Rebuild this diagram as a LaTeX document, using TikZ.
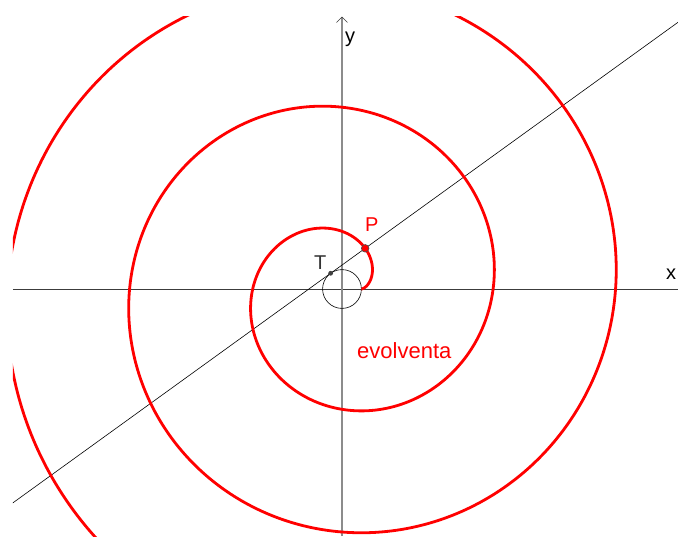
\documentclass[tikz,border=0pt]{standalone}
\usepackage{fontspec}
\setmainfont{Liberation Sans}
\usetikzlibrary{arrows.meta,calc}
\definecolor{axisgray}{RGB}{140,140,140}
\definecolor{axisdark}{RGB}{60,60,60}
\begin{document}
\begin{tikzpicture}[x=1pt,y=1pt,
  spiral/.style={red, line width=2.8pt},
  xaxis/.style={axisdark, line width=1pt},
  yaxis/.style={axisgray, line width=1.4pt},
  thinline/.style={black, line width=0.6pt},
  lbl/.style={font=\fontsize{20}{22}\selectfont, inner sep=0pt, anchor=base west},
  biglbl/.style={font=\fontsize{22}{24}\selectfont, inner sep=0pt, anchor=base west, text=red}]
\useasboundingbox (-342,-247) rectangle (336,289);
\pgfmathsetmacro{\rr}{19.4}
\pgfmathsetmacro{\tang}{125.85}
\coordinate (O) at (0,0);
\coordinate (T) at ({\rr*cos(\tang)},{\rr*sin(\tang)});
\coordinate (P) at ({\rr*(cos(\tang)+rad(\tang)*sin(\tang))},{\rr*(sin(\tang)-rad(\tang)*cos(\tang))});
\coordinate (xl) at (-329,0);
\coordinate (xr) at (336,0);
\coordinate (yb) at (0,-247);
\coordinate (yt) at (0,272);
\begin{scope}
\clip (-329,-247) rectangle (336,272);
\draw[xaxis] (xl) -- (xr);
\draw[yaxis] (yb) -- (yt);
\draw[thinline] ($(T)!-30!(P)$) -- ($(T)!30!(P)$);
\draw[thinline] (O) circle (\rr);
\draw[spiral] plot[domain=0:18.5, samples=600, variable=\t, smooth]
  ({\rr*(cos(\t r)+\t*sin(\t r))},{\rr*(sin(\t r)-\t*cos(\t r))});
\end{scope}
\draw[axisdark, line width=0.6pt] (-5.5,266.5) -- (yt) -- (5.5,266.5);
\fill[red, draw=black!70, line width=0.6pt] (P) circle (3.8);
\fill[black!75] (T) circle (2.4);
\node[lbl, text=black!80] (Tl) at (-28,19.7) {T};
\node[lbl, text=red] (Pl) at (23,57.5) {P};
\node[lbl, text=black] (yl) at (3,246) {y};
\node[lbl, text=black] (xlb) at (324,10) {x};
\node[biglbl] (ev) at (15,-69.3) {evolventa};
\end{tikzpicture}
\end{document}
